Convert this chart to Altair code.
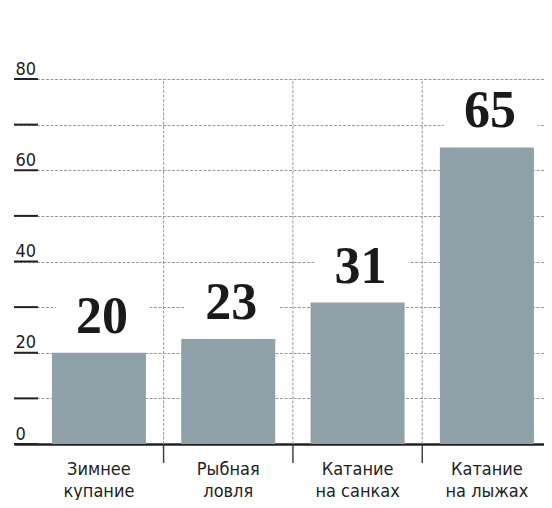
import altair as alt
import pandas as pd

categories = ["Зимнее|купание", "Рыбная|ловля", "Катание|на санках", "Катание|на лыжах"]
values = [20, 23, 31, 65]
y_ticks = [0, 10, 20, 30, 40, 50, 60, 70, 80]

SANS = "Liberation Sans Narrow, DejaVu Sans Condensed, Roboto, sans-serif"
SERIF = "Liberation Serif, DejaVu Serif, serif"

W, H = 530, 365
PI = 0.273
PO = 0.1855
ALIGN = 0.79
BOX = 12
STEP = W / (len(categories) - PI + 2 * PO)
GAP_OFF = -PI * STEP / 2

df = pd.DataFrame({"cat": categories, "value": values})
bounds = pd.DataFrame({"cat": categories[1:]})
ticks = pd.DataFrame({"v": y_ticks})

xscale = alt.Scale(domain=categories, paddingInner=PI, paddingOuter=PO, align=ALIGN, round=False)
yscale = alt.Scale(domain=[0, 80], nice=False, zero=True)

x_axis = alt.Axis(
    title=None, ticks=False, tickSize=0, grid=False, domain=True,
    domainColor="#222", domainWidth=2.5,
    labelExpr="split(datum.label, '|')", labelFont=SANS, labelFontSize=18,
    labelColor="#222", labelPadding=16, labelLineHeight=22, labelAngle=0,
    labelBaseline="top",
)
y_axis = alt.Axis(
    title=None, values=y_ticks, ticks=False, tickSize=0, domain=False, grid=True,
    gridColor="#999", gridDash=[3, 1.5], gridWidth=1,
    labelExpr="datum.value % 20 == 0 ? datum.label : ''",
    labelAlign="left", labelPadding=-1, labelBaseline="alphabetic", labelOffset=-5,
    labelFlush=False, labelOverlap=False, labelFont=SANS, labelFontSize=18,
    labelColor="#222",
)


def xenc(**kw):
    return alt.X("cat:N", scale=xscale, axis=x_axis, **kw)


def yenc(field):
    return alt.Y(field, scale=yscale, axis=y_axis)


base = alt.Chart(df)

vrules = alt.Chart(bounds).mark_rule(
    color="#999", strokeDash=[3, 1.5], strokeWidth=1, xOffset=GAP_OFF
).encode(x=xenc(bandPosition=0), y=alt.datum(0), y2=alt.datum(80))
vticks = alt.Chart(bounds).mark_rule(color="#444", strokeWidth=1.5, xOffset=GAP_OFF).encode(
    x=xenc(bandPosition=0), y=alt.value(H + 1), y2=alt.value(H + 19)
)
yticks = alt.Chart(ticks).mark_rule(color="#222", strokeWidth=2).encode(
    y=yenc("v:Q"), x=alt.value(0), x2=alt.value(24)
)
box = base.transform_calculate(top=f"datum.value + {BOX}").mark_bar(color="white", xOffset=4).encode(
    x=xenc(), y=yenc("value:Q"), y2="top:Q"
)
bars = base.mark_bar(color="#8fa1a9").encode(x=xenc(), y=yenc("value:Q"))
text = base.mark_text(
    font=SERIF, fontWeight="bold", fontSize=52, baseline="alphabetic",
    dy=-20, dx=3, color="#1a1a1a",
).encode(x=xenc(), y=yenc("value:Q"), text="value:Q")

chart = (
    alt.layer(vrules, vticks, yticks, box, bars, text)
    .properties(
        width=W, height=H,
        padding={"left": 6, "top": 71, "right": 0, "bottom": 56},
        autosize=alt.AutoSizeParams(type="none"),
    )
    .configure_view(stroke=None)
)

chart.save("out.html", embed_options={"renderer": "svg", "actions": False})
